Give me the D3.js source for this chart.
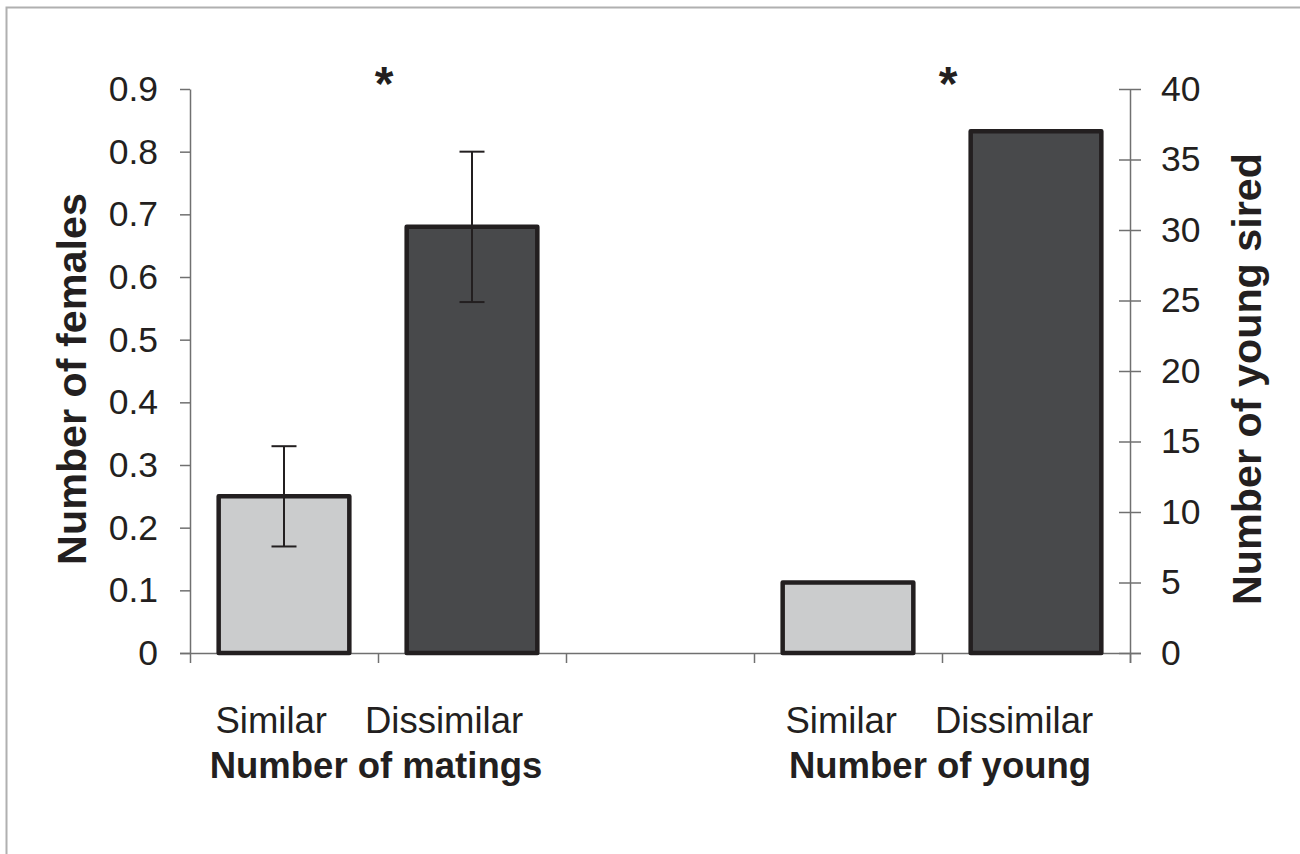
<!DOCTYPE html>
<html>
<head>
<meta charset="utf-8">
<script src="https://cdn.jsdelivr.net/npm/d3@7"></script>
<style>
  html, body { margin: 0; padding: 0; background: #fff; }
  svg { display: block; }
  text { font-family: "Liberation Sans", Arial, Helvetica, sans-serif; fill: #231f20; }
</style>
</head>
<body>
<svg id="chart" width="1300" height="854"></svg>
<script>
// ---- data ----
const slots = ["matings-Similar", "matings-Dissimilar", "gap", "young-Similar", "young-Dissimilar"];
const categories = ["Similar", "Dissimilar"];
const groupTitles = ["Number of matings", "Number of young"];
const matingsMean = [0.25, 0.68];
const matingsErrLow = [0.17, 0.56];
const matingsErrHigh = [0.33, 0.80];
const youngSired = [5, 37];
const leftTicks = [0, 0.1, 0.2, 0.3, 0.4, 0.5, 0.6, 0.7, 0.8, 0.9];
const rightTicks = [0, 5, 10, 15, 20, 25, 30, 35, 40];
const leftTitle = "Number of females";
const rightTitle = "Number of young sired";
const significance = ["*", "*"];

// ---- layout ----
const svg = d3.select("#chart");
const plotL = 190, plotR = 1130, plotT = 89, plotB = 653;
const axisColor = "#707070";
const barColors = ["#cbcccd", "#48494b"];
const barStroke = "#231f20";

// border
svg.append("path")
  .attr("d", "M6.5,854 V7.5 H1300")
  .attr("fill", "none").attr("stroke", "#b0b0b0").attr("stroke-width", 2);

const x = d3.scaleBand().domain(slots).range([plotL, plotR]).padding(0);
const yL = d3.scaleLinear().domain([0, 0.9]).range([plotB, plotT]);
const yR = d3.scaleLinear().domain([0, 40]).range([plotB, plotT]);
const barW = x.bandwidth() * 0.695;

// x axis (ticks at slot boundaries)
const xEdges = d3.scaleLinear().domain([0, slots.length]).range([plotL, plotR]);
const xAxisG = svg.append("g")
  .attr("transform", `translate(0,${plotB})`)
  .call(d3.axisBottom(xEdges).tickValues(d3.range(0, slots.length + 1)).tickFormat("").tickSize(10).tickSizeOuter(0));
xAxisG.select(".domain").attr("d", `M${plotL - 10},0.5H${plotR + 11}`);
xAxisG.selectAll("line, path").attr("stroke", axisColor).attr("stroke-width", 1.5);

// left axis
const lAxisG = svg.append("g")
  .attr("transform", `translate(${plotL},0)`)
  .call(d3.axisLeft(yL).tickValues(leftTicks).tickFormat(d => d === 0 ? "0" : d3.format(".1f")(d)).tickSize(10).tickSizeOuter(0).tickPadding(22));
lAxisG.selectAll("line, path").attr("stroke", axisColor).attr("stroke-width", 1.5);
lAxisG.selectAll("text").attr("font-size", 35.5).attr("fill", "#231f20")
  .style("font-family", '"Liberation Sans", Arial, sans-serif');

// right axis
const rAxisG = svg.append("g")
  .attr("transform", `translate(${plotR},0)`)
  .call(d3.axisRight(yR).tickValues(rightTicks).tickSize(11).tickSizeOuter(0).tickPadding(20));
rAxisG.selectAll(".tick line").attr("x1", -11);
rAxisG.select(".domain").attr("d", `M0.5,${plotT}V${plotB + 10}`);
rAxisG.selectAll("line, path").attr("stroke", axisColor).attr("stroke-width", 1.5);
rAxisG.selectAll("text").attr("font-size", 35.5).attr("fill", "#231f20")
  .style("font-family", '"Liberation Sans", Arial, sans-serif');

// bars
const matData = categories.map((c, i) => ({ slot: slots[i], v: matingsMean[i], lo: matingsErrLow[i], hi: matingsErrHigh[i], i }));
const youngData = categories.map((c, i) => ({ slot: slots[3 + i], v: youngSired[i], i }));

svg.append("g").selectAll("rect").data(matData).join("rect")
  .attr("x", d => x(d.slot) + (x.bandwidth() - barW) / 2)
  .attr("y", d => yL(d.v))
  .attr("width", barW)
  .attr("height", d => yL(0) - yL(d.v))
  .attr("fill", d => barColors[d.i])
  .attr("stroke", barStroke).attr("stroke-width", 4.5).attr("stroke-linejoin", "round");

svg.append("g").selectAll("rect").data(youngData).join("rect")
  .attr("x", d => x(d.slot) + (x.bandwidth() - barW) / 2)
  .attr("y", d => yR(d.v))
  .attr("width", barW)
  .attr("height", d => yR(0) - yR(d.v))
  .attr("fill", d => barColors[d.i])
  .attr("stroke", barStroke).attr("stroke-width", 4.5).attr("stroke-linejoin", "round");

// error bars
const eg = svg.append("g").attr("stroke", "#231f20").attr("stroke-width", 2);
matData.forEach(d => {
  const cx = x(d.slot) + x.bandwidth() / 2;
  eg.append("line").attr("x1", cx).attr("x2", cx).attr("y1", yL(d.hi)).attr("y2", yL(d.lo));
  eg.append("line").attr("x1", cx - 12.5).attr("x2", cx + 12.5).attr("y1", yL(d.hi)).attr("y2", yL(d.hi));
  eg.append("line").attr("x1", cx - 12.5).attr("x2", cx + 12.5).attr("y1", yL(d.lo)).attr("y2", yL(d.lo));
});

// significance asterisks
[1, 4].forEach((edge, gi) => {
  svg.append("text")
    .attr("x", xEdges(edge) + 6).attr("y", 100)
    .attr("text-anchor", "middle").attr("font-size", 48).attr("font-weight", "bold")
    .text(significance[gi]);
});

// category labels and group titles
const groupShift = [-6, 0];
[1, 4].forEach((edge, gi) => {
  const cx = xEdges(edge) + groupShift[gi];
  svg.append("text").attr("x", cx - 45).attr("y", 733).attr("text-anchor", "end")
    .attr("font-size", 36.5).text(categories[0]);
  svg.append("text").attr("x", cx - 7).attr("y", 733).attr("text-anchor", "start")
    .attr("font-size", 36.5).text(categories[1]);
  svg.append("text").attr("x", xEdges(edge) - 2).attr("y", 778).attr("text-anchor", "middle")
    .attr("font-size", 36.5).attr("font-weight", "bold").text(groupTitles[gi]);
});

// y titles
svg.append("text")
  .attr("transform", `translate(86,379) rotate(-90)`)
  .attr("text-anchor", "middle").attr("font-size", 41.3).attr("font-weight", "bold")
  .text(leftTitle);
svg.append("text")
  .attr("transform", `translate(1261,379) rotate(-90)`)
  .attr("text-anchor", "middle").attr("font-size", 41.3).attr("font-weight", "bold")
  .text(rightTitle);
</script>
</body>
</html>
